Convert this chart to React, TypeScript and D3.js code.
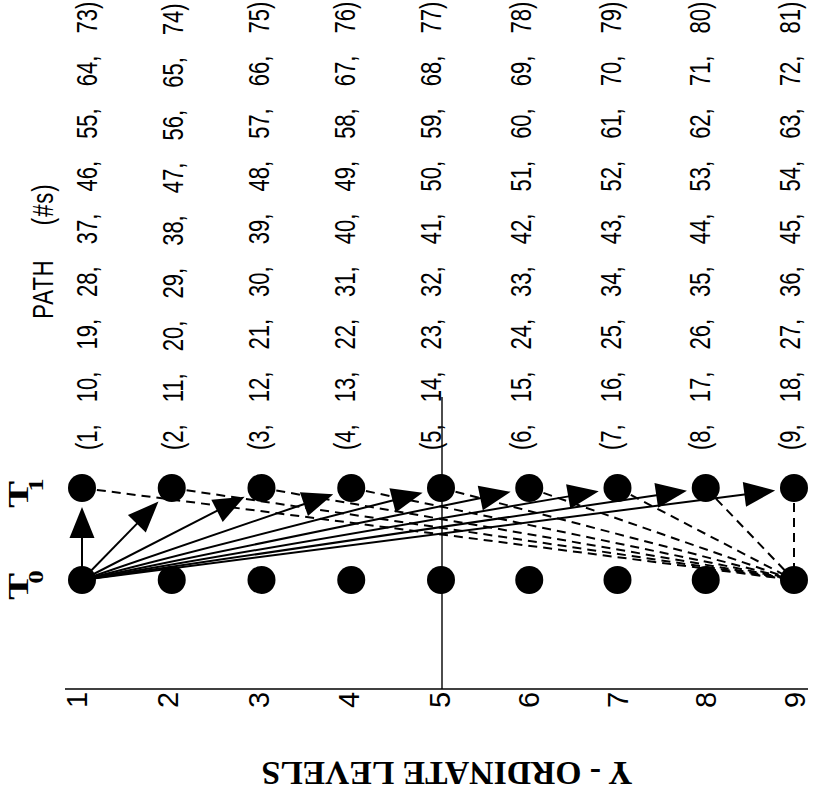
import React from "react";
import * as d3 from "d3";

const levels = [1, 2, 3, 4, 5, 6, 7, 8, 9];
const times = [0, 1];
const timeSubscripts = ["0", "1"];
const arrowTargets = [1, 2, 3, 4, 5, 6, 7, 8, 9];
const dashedSources = [1, 2, 3, 4, 5, 6, 7, 8, 9];
const arrowSource = 1;
const dashedTarget = 9;
const markedLevel = 5;
const pathIds = [
  [1, 10, 19, 28, 37, 46, 55, 64, 73],
  [2, 11, 20, 29, 38, 47, 56, 65, 74],
  [3, 12, 21, 30, 39, 48, 57, 66, 75],
  [4, 13, 22, 31, 40, 49, 58, 67, 76],
  [5, 14, 23, 32, 41, 50, 59, 68, 77],
  [6, 15, 24, 33, 42, 51, 60, 69, 78],
  [7, 16, 25, 34, 43, 52, 61, 70, 79],
  [8, 17, 26, 35, 44, 53, 62, 71, 80],
  [9, 18, 27, 36, 45, 54, 63, 72, 81],
];
const pathTitle = "PATH (#s)";
const axisTitle = "Y - ORDINATE LEVELS";

const W = 815;
const H = 794;

export default function App() {
  const x = d3.scaleLinear().domain([1, 5, 9]).range([82, 441, 794]);
  const tickX = d3.scaleLinear().domain([1, 5, 9]).range([77, 440, 795]);
  const textX = d3.scaleLinear().domain([1, 5, 9]).range([87, 431, 790]);
  const y = d3.scaleLinear().domain([0, 1]).range([580, 488]);
  const axisY = 689;
  const sans = "'Liberation Sans', Arial, sans-serif";
  const serif = "'Liberation Serif', 'Times New Roman', serif";
  const R = 14;

  const arrows = arrowTargets.map((t) => {
    const x0 = x(arrowSource), y0 = y(0);
    const x1 = x(t), y1 = y(1);
    const len = Math.hypot(x1 - x0, y1 - y0);
    const ux = (x1 - x0) / len, uy = (y1 - y0) / len;
    const nx = -uy, ny = ux;
    const tipX = x1 - ux * 19, tipY = y1 - uy * 19;
    const bX = tipX - ux * 31, bY = tipY - uy * 31;
    const hw = 12.5;
    return {
      t,
      line: [x0, y0, bX + ux * 2, bY + uy * 2],
      tri: `${tipX},${tipY} ${bX + nx * hw},${bY + ny * hw} ${bX - nx * hw},${bY - ny * hw}`,
    };
  });

  return (
    <svg width={W} height={H} style={{ position: "absolute", left: 0, top: 0, background: "#fff" }}>
      <rect x={0} y={0} width={W} height={H} fill="#fff" />
      {/* axis line */}
      <line x1={65} x2={808} y1={axisY} y2={axisY} stroke="#000" strokeWidth={1.6} />
      <line x1={x(markedLevel) + 1} x2={x(markedLevel) + 1} y1={397} y2={axisY} stroke="#000" strokeWidth={1.4} />
      {/* dashed lines */}
      {dashedSources.map((s) => (
        <line key={"d" + s} x1={x(s)} y1={y(1)} x2={x(dashedTarget)} y2={y(0)}
          stroke="#000" strokeWidth={2} strokeDasharray="9,6" />
      ))}
      {/* solid arrows */}
      {arrows.map((a) => (
        <g key={"a" + a.t}>
          <line x1={a.line[0]} y1={a.line[1]} x2={a.line[2]} y2={a.line[3]} stroke="#000" strokeWidth={2} />
          <polygon points={a.tri} fill="#000" />
        </g>
      ))}
      {/* dots */}
      {times.map((t) =>
        levels.map((l) => <circle key={`c${t}-${l}`} cx={x(l)} cy={y(t)} r={R} fill="#000" />)
      )}
      {/* tick labels */}
      {levels.map((l) => (
        <g key={"t" + l} transform={`translate(${tickX(l) + 10}, 700) rotate(-90)`}>
          <text x={0} y={0} textAnchor="middle" fontFamily={sans} fontSize={29} fill="#000">{l}</text>
        </g>
      ))}
      {/* path labels */}
      {pathIds.map((ids, i) => (
        <g key={"p" + i} transform={`translate(${textX(levels[i]) + 10}, 450) rotate(-90) scale(1, 1.3)`}>
          <text x={0} y={0} fontFamily={sans} fontSize={22} fill="#000" style={{ wordSpacing: "16px" }}>
            {"(" + ids.join(", ") + ")"}
          </text>
        </g>
      ))}
      <g transform="translate(53, 251) rotate(-90) scale(1, 1.3)">
        <text x={0} y={0} textAnchor="middle" fontFamily={sans} fontSize={22} fill="#000"
          style={{ wordSpacing: "27px", letterSpacing: "1px" }}>
          {pathTitle}
        </text>
      </g>
      {/* time labels */}
      {times.map((t) => (
        <g key={"T" + t} transform={`translate(28, ${y(t) + 20}) rotate(-90) scale(1.35, 1)`}>
          <text x={0} y={0} fontFamily={serif} fontWeight="bold" fontSize={30} fill="#000">
            <tspan>T</tspan>
            <tspan dx={-8} dy={15} fontSize={20}>{timeSubscripts[t]}</tspan>
          </text>
        </g>
      ))}
      {/* axis title, upside down */}
      <g transform="translate(447, 762) rotate(180)">
        <text x={0} y={0} textAnchor="middle" fontFamily={serif} fontWeight="bold" fontSize={34}
          fill="#000" textLength={371} lengthAdjust="spacingAndGlyphs">
          {axisTitle}
        </text>
      </g>
    </svg>
  );
}
